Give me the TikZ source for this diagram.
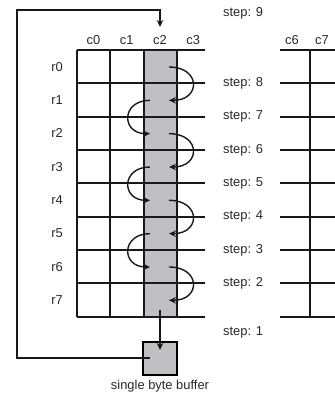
\documentclass[tikz,border=0pt]{standalone}
\usepackage{fontspec}
\setmainfont{Liberation Sans}
\usetikzlibrary{arrows.meta,positioning,calc}
\definecolor{bytegray}{RGB}{191,192,196}
\definecolor{inkgray}{RGB}{40,40,40}

\begin{document}
\begin{tikzpicture}[
    x=1pt, y=-1pt,
    lbl/.style={font=\fontsize{12.9pt}{15pt}\selectfont, text=inkgray, inner sep=0pt},
    cellline/.style={line width=1.8pt, draw=black!90},
    hop/.style={-{Stealth[length=7pt,width=6.5pt]}, line width=1.4pt, draw=black!90},
    flow/.style={-{Stealth[length=7pt,width=6.5pt]}, line width=1.6pt, draw=black!90}
]
\useasboundingbox (0,0) rectangle (335,394);

% Shaded column c2
\fill[bytegray] (143.3,50) rectangle (176.7,316.7);

% Grid, left block
\foreach \j in {0,...,8}
  \draw[cellline] (77,{50+33.33*\j}) -- (205,{50+33.33*\j});
\foreach \i in {0,...,3}
  \draw[cellline] ({77+33.33*\i},50) -- ({77+33.33*\i},316.7);

% Grid, right block
\foreach \j in {0,...,8}
  \draw[cellline] (280,{50+33.33*\j}) -- (335,{50+33.33*\j});
\draw[cellline] (310,50) -- (310,316.7);

% Column labels
\node[lbl] (c0) at (93.5, 40) {c0};
\node[lbl] (c1) at (126.7, 40) {c1};
\node[lbl] (c2) at (160, 40) {c2};
\node[lbl] (c3) at (193.3, 40) {c3};
\node[lbl] (c6) at (292, 40) {c6};
\node[lbl] (c7) at (322, 40) {c7};

% Row labels
\node[lbl] (r0) at (57, 66.7) {r0};
\node[lbl] (r1) at (57, 100) {r1};
\node[lbl] (r2) at (57, 133.3) {r2};
\node[lbl] (r3) at (57, 166.7) {r3};
\node[lbl] (r4) at (57, 200) {r4};
\node[lbl] (r5) at (57, 233.3) {r5};
\node[lbl] (r6) at (57, 266.7) {r6};
\node[lbl] (r7) at (57, 300) {r7};

% Step labels
\node[lbl, anchor=west] (s9) at (223, 13) {step: 9};
\node[lbl, anchor=west] (s8) at (223, 83.3) {step: 8};
\node[lbl, anchor=west] (s7) at (223, 116.7) {step: 7};
\node[lbl, anchor=west] (s6) at (223, 150) {step: 6};
\node[lbl, anchor=west] (s5) at (223, 183.3) {step: 5};
\node[lbl, anchor=west] (s4) at (223, 216.7) {step: 4};
\node[lbl, anchor=west] (s3) at (223, 250) {step: 3};
\node[lbl, anchor=west] (s2) at (223, 283.3) {step: 2};
\node[lbl, anchor=west] (s1) at (223, 332) {step: 1};

% Cell points in c2
\foreach \k in {0,...,7} {
  \coordinate (e\k) at (169, {67+33.33*\k});
  \coordinate (w\k) at (150, {67+33.33*\k});
}

% Byte moves down the column
\draw[hop] (e0) .. controls +(32,0) and +(32,0) .. (e1);
\draw[hop] (w1) .. controls +(-29,0) and +(-29,0) .. (w2);
\draw[hop] (e2) .. controls +(32,0) and +(32,0) .. (e3);
\draw[hop] (w3) .. controls +(-29,0) and +(-29,0) .. (w4);
\draw[hop] (e4) .. controls +(32,0) and +(32,0) .. (e5);
\draw[hop] (w5) .. controls +(-29,0) and +(-29,0) .. (w6);
\draw[hop] (e6) .. controls +(32,0) and +(32,0) .. (e7);

% Buffer
\node[draw, line width=1.8pt, fill=bytegray, minimum size=33.3pt, inner sep=0pt] (buf) at (160, 358.5) {};
\node[lbl, below=3.5pt of buf] (buflbl) {single byte buffer};

\coordinate (r7out) at (160, 310);
\coordinate (bufin) at (160, 350);
\coordinate (bufout) at (150, 357.7);
\coordinate (loopcorner) at (17, 10);
\coordinate (c2in) at (160, 27);

% Arrows
\draw[flow] (r7out) -- (bufin);
\draw[flow] (bufout) -| (loopcorner) -| (c2in);

\end{tikzpicture}
\end{document}
